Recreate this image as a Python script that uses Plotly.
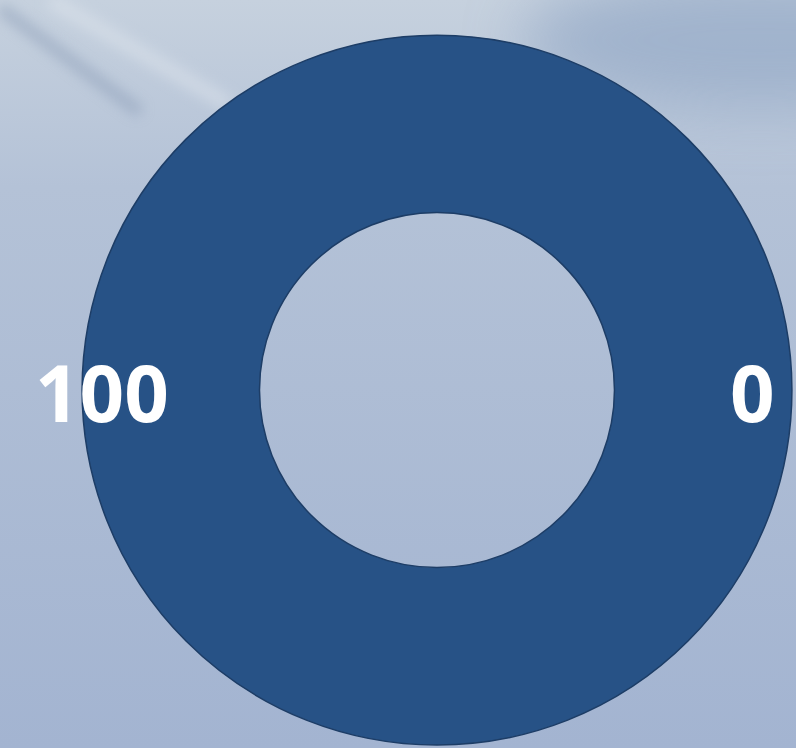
import plotly.graph_objects as go
import base64

# Data
slice_labels = ["Filled", "Remaining"]
slice_values = [100, 0]
end_labels = ["100", "0"]

W, H = 796, 748

svg = f'''<svg xmlns="http://www.w3.org/2000/svg" width="{W}" height="{H}">
<defs>
<linearGradient id="g" x1="0" y1="0" x2="0" y2="1">
<stop offset="0" stop-color="#c6d1de"/>
<stop offset="0.25" stop-color="#b4c2d7"/>
<stop offset="1" stop-color="#a3b4d1"/>
</linearGradient>
<filter id="b" x="-50%" y="-50%" width="200%" height="200%"><feGaussianBlur stdDeviation="7"/></filter>
<filter id="b2" x="-50%" y="-50%" width="200%" height="200%"><feGaussianBlur stdDeviation="30"/></filter>
</defs>
<rect width="{W}" height="{H}" fill="url(#g)"/>
<ellipse cx="760" cy="40" rx="240" ry="70" fill="#93a8c6" opacity="0.7" filter="url(#b2)"/>
<line x1="0" y1="8" x2="140" y2="112" stroke="#8294b0" stroke-width="10" opacity="0.55" filter="url(#b)"/>
<line x1="50" y1="0" x2="230" y2="105" stroke="#e2e8ef" stroke-width="14" opacity="0.5" filter="url(#b)"/>
</svg>'''
bg = "data:image/svg+xml;base64," + base64.b64encode(svg.encode()).decode()

fig = go.Figure()
fig.add_trace(go.Pie(
    labels=slice_labels,
    values=slice_values,
    hole=0.5,
    sort=False,
    direction="clockwise",
    textinfo="none",
    marker=dict(colors=["#275286", "#275286"], line=dict(color="#1d3d66", width=[1.5, 0])),
    domain=dict(x=[0.103, 0.995], y=[0.004, 0.953]),
    showlegend=False,
    hoverinfo="label+value",
))

fig.add_annotation(x=0.128, y=0.476, xref="paper", yref="paper", xanchor="center", yanchor="middle",
                   text=f"<b>{end_labels[0]}</b>",
                   showarrow=False, font=dict(family="Open Sans", size=78, color="white"))
fig.add_annotation(x=0.945, y=0.476, xref="paper", yref="paper", xanchor="center", yanchor="middle",
                   text=f"<b>{end_labels[1]}</b>",
                   showarrow=False, font=dict(family="Open Sans", size=78, color="white"))

fig.add_layout_image(dict(source=bg, xref="paper", yref="paper", x=0, y=1, sizex=1, sizey=1,
                          xanchor="left", yanchor="top", sizing="stretch", layer="below"))

fig.update_layout(width=W, height=H, margin=dict(l=0, r=0, t=0, b=0),
                  paper_bgcolor="#a9b9d3", plot_bgcolor="rgba(0,0,0,0)")
fig.write_html("out.html", config={"displayModeBar": False},
               post_script="document.body.style.margin='0';document.body.style.overflow='hidden';")
